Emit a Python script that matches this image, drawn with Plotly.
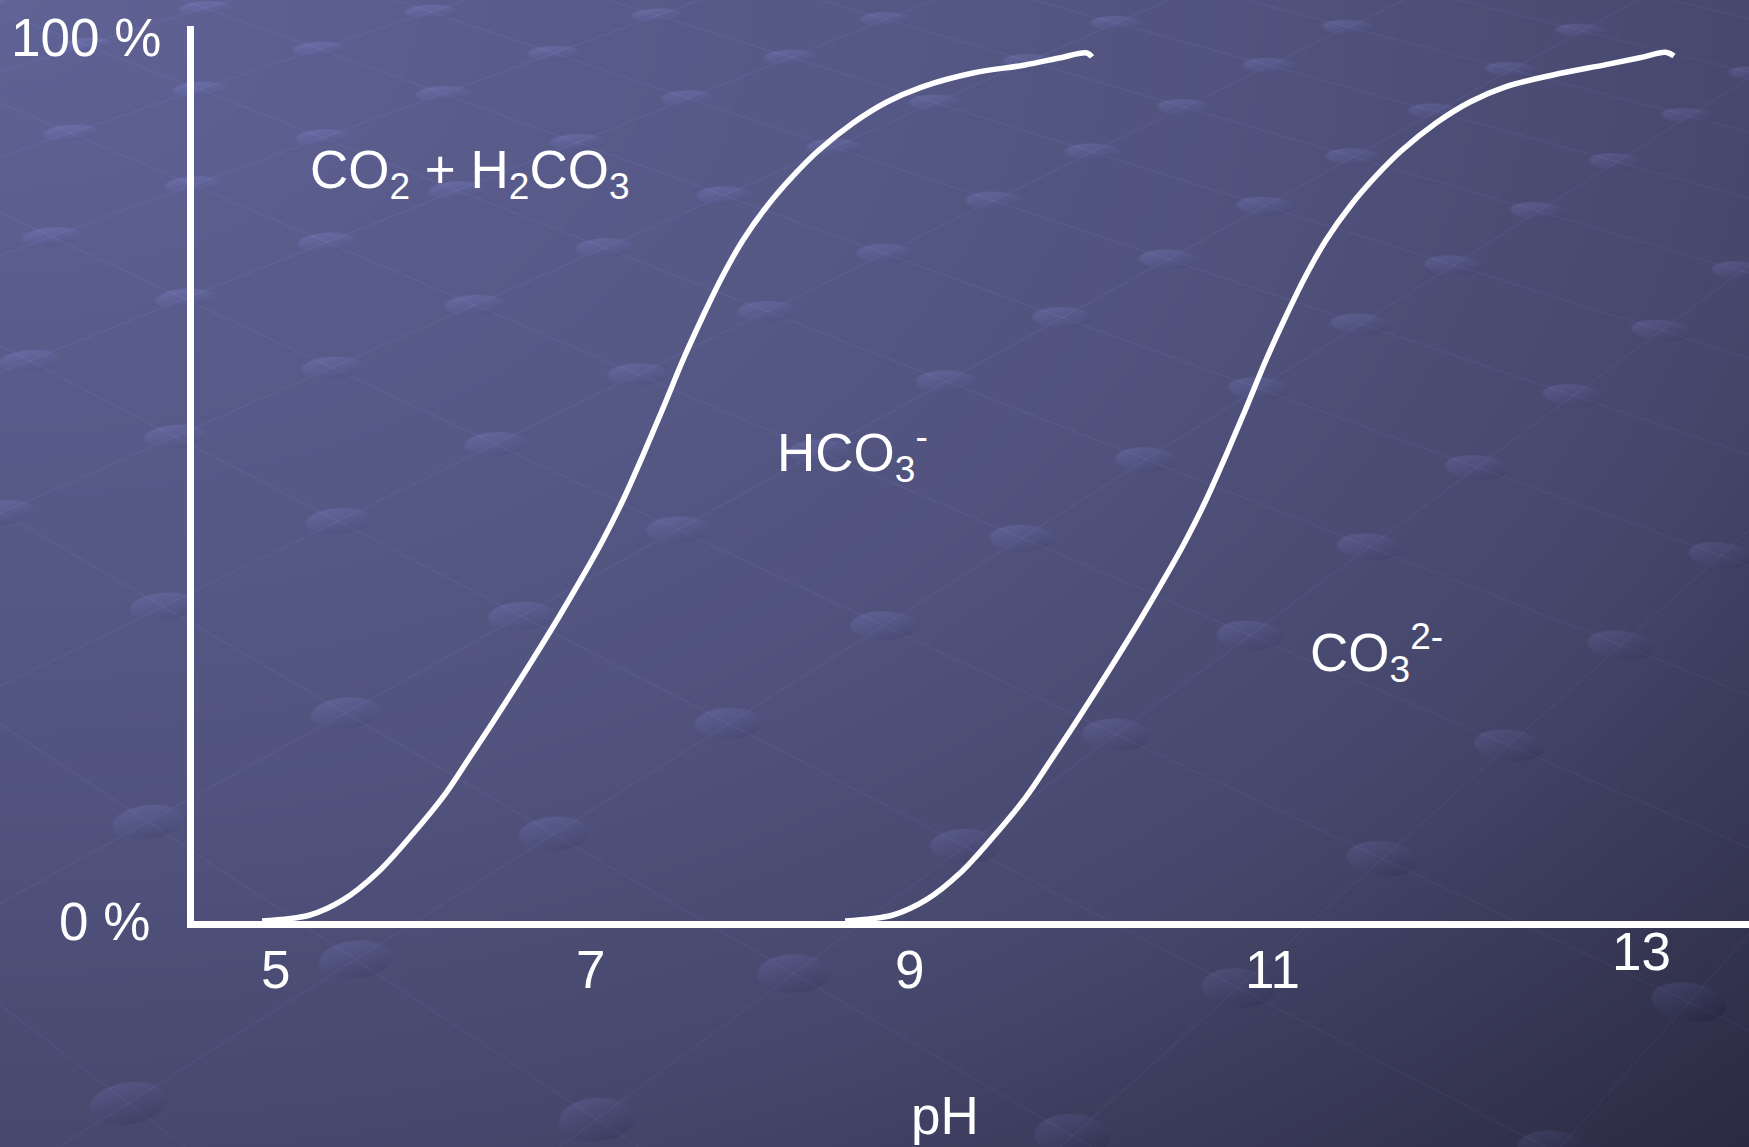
import base64
import struct
import zlib

import numpy as np
import plotly.graph_objects as go

# ---------------- data ----------------
# Curve 1: CO2 + H2CO3  ->  HCO3-   (share converted, %)
ph_curve1 = [4.915, 5.219, 5.428, 5.644, 5.853, 6.062, 6.220, 6.379, 6.613, 6.785,
             6.949, 7.076, 7.203, 7.330, 7.457, 7.583, 7.710, 7.831, 7.964, 8.122,
             8.281, 8.439, 8.661, 8.876, 9.096, 9.422, 9.751, 9.967, 10.144, 10.176]
pct_curve1 = [0.0, 0.68, 2.38, 5.43, 9.50, 14.03, 18.21, 22.51, 29.07, 34.05,
              39.03, 43.10, 47.62, 52.71, 58.03, 63.46, 68.44, 72.85, 77.04, 81.00,
              84.28, 87.10, 90.27, 92.65, 94.34, 95.93, 96.83, 97.62, 98.19, 97.74]

# Curve 2: HCO3-  ->  CO3 2-
ph_curve2 = [8.611, 8.915, 9.124, 9.340, 9.549, 9.758, 9.916, 10.075, 10.309, 10.481,
             10.645, 10.772, 10.899, 11.026, 11.153, 11.279, 11.406, 11.527, 11.660, 11.818,
             11.977, 12.135, 12.357, 12.572, 12.792, 13.098, 13.434, 13.656, 13.812, 13.865]
pct_curve2 = [0.0, 0.68, 2.38, 5.43, 9.50, 14.03, 18.21, 22.51, 29.07, 34.05,
              39.03, 43.10, 47.62, 52.71, 58.03, 63.46, 68.44, 72.85, 77.04, 81.00,
              84.28, 87.10, 90.27, 92.65, 94.34, 95.70, 96.88, 97.68, 98.27, 97.85]

tick_ph = [5, 7, 9.016, 11.317, 13.662]
tick_text = ["5", "7", "9", "11", "13"]
y_tick_text = ["0 %", "100 %"]
species = ["CO<sub>2</sub> + H<sub>2</sub>CO<sub>3</sub>",
           "HCO<sub>3</sub><sup>-</sup>",
           "CO<sub>3</sub><sup>2-</sup>"]

# ---------------- geometry of the slide ----------------
W, H = 1749, 1147
L, T, B = 194, 26, 226
PW, PH = W - L, H - T - B
PX_PER_PH = 157.75
PX_PER_PCT = 8.84
X0 = 4.4834
X_RANGE = [X0, X0 + PW / PX_PER_PH]
Y_RANGE = [0, PH / PX_PER_PCT]


def background_png(w, h):
    yy, xx = np.mgrid[0:h, 0:w].astype(np.float32)
    d = np.sqrt((xx / w) ** 2 + (yy / h) ** 2) / np.sqrt(2)
    st = [0.0, 0.5, 0.72, 1.0]
    cols = np.array([[95, 98, 148], [81, 83, 126], [70, 71, 108], [42, 42, 66]], np.float32)
    img = np.stack([np.interp(d, st, cols[:, k]).astype(np.float32) for k in range(3)], axis=-1)

    # perspective lattice of dots (decorative slide template)
    FH, F, yh, cx = 2038.0, 3012.0, -1012.0, 875.0
    Z = FH / (yy - yh)
    X = (xx - cx) * Z / F
    AX, AZ = -0.1785, 1.034
    A = np.array([0.0606, 0.0703])
    Bv = np.array([0.0900, -0.0776])
    Mi = np.linalg.inv(np.array([[A[0], Bv[0]], [A[1], Bv[1]]]))
    dX, dZ = X - AX, Z - AZ
    u = (Mi[0, 0] * dX + Mi[0, 1] * dZ).astype(np.float32)
    v = (Mi[1, 0] * dX + Mi[1, 1] * dZ).astype(np.float32)
    for wv in (u, v):
        gy, gx = np.gradient(wv)
        g = np.sqrt(gx ** 2 + gy ** 2) + 1e-9
        dist = np.abs(wv - np.round(wv)) / g
        alpha = np.clip(1.2 - dist / 0.9, 0, 1) * 0.75
        img += alpha[..., None] * np.array([8, 8, 13], np.float32)
    fu = u - np.round(u)
    fv = v - np.round(v)
    ox = fu * A[0] + fv * Bv[0]
    oz = fu * A[1] + fv * Bv[1]
    grow = Z ** 0.45
    rx, rz = 0.0122 * grow, 0.0099 * grow
    n = np.sqrt((ox / rx) ** 2 + (oz / rz) ** 2)
    ry_px = rz * FH / Z ** 2
    edge = np.clip((1 - n) * ry_px / 1.5 + 0.5, 0, 1)
    nx = ox / rx
    ny = -oz / rz
    shade = np.clip(-(0.55 * nx + 0.83 * ny), -1, 1)
    lift = np.clip((1147 - yy) / 1147, 0, 1)[..., None]
    base = np.array([2, 2, 5], np.float32) + lift * np.array([4, 4, 6], np.float32)
    dotcol = img + base + shade[..., None] * np.array([9, 9, 13], np.float32)
    img = img * (1 - edge[..., None]) + dotcol * edge[..., None]

    arr = np.clip(np.round(img), 0, 255).astype(np.uint8)
    raw = arr.astype(np.int16)
    sub = np.empty_like(arr)
    sub[:, 0] = arr[:, 0]
    sub[:, 1:] = ((raw[:, 1:] - raw[:, :-1]) % 256).astype(np.uint8)
    data = np.concatenate([np.ones((h, 1), np.uint8), sub.reshape(h, w * 3)], axis=1).tobytes()

    def chunk(t, dd):
        c = struct.pack(">I", len(dd)) + t + dd
        return c + struct.pack(">I", zlib.crc32(t + dd) & 0xFFFFFFFF)

    ihdr = struct.pack(">IIBBBBB", w, h, 8, 2, 0, 0, 0)
    png = (b"\x89PNG\r\n\x1a\n" + chunk(b"IHDR", ihdr)
           + chunk(b"IDAT", zlib.compress(data, 9)) + chunk(b"IEND", b""))
    return "data:image/png;base64," + base64.b64encode(png).decode()


fig = go.Figure()
for xs, ys in [(ph_curve1, pct_curve1), (ph_curve2, pct_curve2)]:
    fig.add_trace(go.Scatter(
        x=xs, y=ys, mode="lines",
        line=dict(color="white", width=5.5, shape="spline", smoothing=1.0),
        hoverinfo="skip", showlegend=False, cliponaxis=False))

FONT = dict(family="Liberation Sans, Arial, sans-serif", size=53, color="white")
ann = []


def paper_y(py):
    return (T + PH - py) / PH


def data_x(px):
    return X0 + (px - L) / PX_PER_PH


for v, t in zip(tick_ph, tick_text):
    ann.append(dict(x=v, y=paper_y(951 if t == "13" else 969), xref="x", yref="paper",
                    text=t, showarrow=False, font=FONT, xanchor="center", yanchor="middle"))
ann.append(dict(x=(104.5 - L) / PW, y=paper_y(921), xref="paper", yref="paper",
                text=y_tick_text[0], showarrow=False, font=FONT,
                xanchor="center", yanchor="middle"))
ann.append(dict(x=(85.5 - L) / PW, y=paper_y(37), xref="paper", yref="paper",
                text=y_tick_text[1], showarrow=False, font=FONT,
                xanchor="center", yanchor="middle"))
ann.append(dict(x=data_x(945), y=paper_y(1115), xref="x", yref="paper",
                text="pH", showarrow=False, font=FONT, xanchor="center", yanchor="middle"))
for txt, px, py in [(species[0], 469.5, 173.5), (species[1], 852.5, 452), (species[2], 1376, 652.5)]:
    ann.append(dict(x=data_x(px), y=paper_y(py), xref="x", yref="paper",
                    text=txt, showarrow=False, font=FONT, xanchor="center", yanchor="middle"))

fig.add_layout_image(dict(
    source=background_png(W, H), xref="paper", yref="paper",
    x=-L / PW, y=(PH + T) / PH, sizex=W / PW, sizey=H / PH,
    xanchor="left", yanchor="top", sizing="stretch", layer="below"))

axis_common = dict(showline=True, linecolor="white", linewidth=7, showgrid=False,
                   zeroline=False, showticklabels=False, ticks="", fixedrange=True)
fig.update_layout(
    width=W, height=H,
    margin=dict(l=L, r=0, t=T, b=B, pad=0),
    paper_bgcolor="#4f5180", plot_bgcolor="rgba(0,0,0,0)",
    xaxis=dict(range=X_RANGE, **axis_common),
    yaxis=dict(range=Y_RANGE, **axis_common),
    annotations=ann,
)
fig.write_html("out.html")
